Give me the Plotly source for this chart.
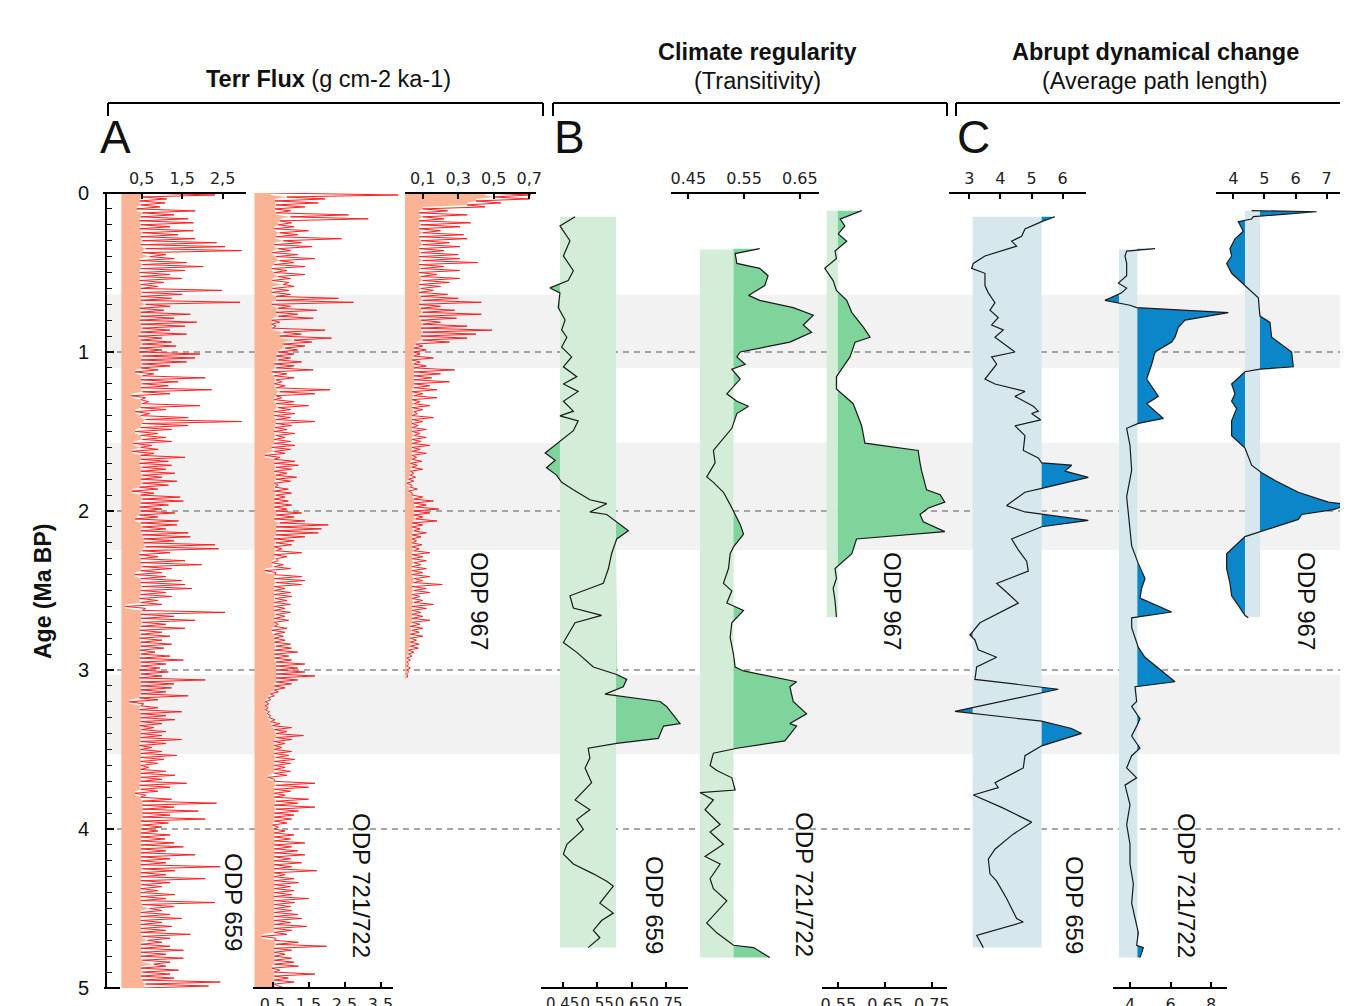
import plotly.graph_objects as go

W, H = 1348, 1006          # target page size (px)
OFF = 8                    # browser body margin: the figure div starts at (8, 8)
FW, FH = W - OFF, H - OFF  # figure size

# ------------------------------------------------------------------ data
AGE_TICKS = [0, 1, 2, 3, 4, 5]
GRAY_BANDS = [(0.64, 1.10), (1.57, 2.245), (3.03, 3.53)]
DASHED_AGES = [1, 2, 3, 4]

# sampling ages of the terrigenous-flux records (Ma)
FLUX_AGE = [
    0.0, 0.0125, 0.025, 0.0375, 0.05, 0.0625, 0.075, 0.0875, 0.1, 0.1125, 0.125, 0.1375, 0.15, 0.1625, 0.175, 0.1875,
    0.2, 0.2125, 0.225, 0.2375, 0.25, 0.2625, 0.275, 0.2875, 0.3, 0.3125, 0.325, 0.3375, 0.35, 0.3625, 0.375, 0.3875,
    0.4, 0.4125, 0.425, 0.4375, 0.45, 0.4625, 0.475, 0.4875, 0.5, 0.5125, 0.525, 0.5375, 0.55, 0.5625, 0.575, 0.5875,
    0.6, 0.6125, 0.625, 0.6375, 0.65, 0.6625, 0.675, 0.6875, 0.7, 0.7125, 0.725, 0.7375, 0.75, 0.7625, 0.775, 0.7875,
    0.8, 0.8125, 0.825, 0.8375, 0.85, 0.8625, 0.875, 0.8875, 0.9, 0.9125, 0.925, 0.9375, 0.95, 0.9625, 0.975, 0.9875,
    1.0, 1.0125, 1.025, 1.0375, 1.05, 1.0625, 1.075, 1.0875, 1.1, 1.1125, 1.125, 1.1375, 1.15, 1.1625, 1.175, 1.1875,
    1.2, 1.2125, 1.225, 1.2375, 1.25, 1.2625, 1.275, 1.2875, 1.3, 1.3125, 1.325, 1.3375, 1.35, 1.3625, 1.375, 1.3875,
    1.4, 1.4125, 1.425, 1.4375, 1.45, 1.4625, 1.475, 1.4875, 1.5, 1.5125, 1.525, 1.5375, 1.55, 1.5625, 1.575, 1.5875,
    1.6, 1.6125, 1.625, 1.6375, 1.65, 1.6625, 1.675, 1.6875, 1.7, 1.7125, 1.725, 1.7375, 1.75, 1.7625, 1.775, 1.7875,
    1.8, 1.8125, 1.825, 1.8375, 1.85, 1.8625, 1.875, 1.8875, 1.9, 1.9125, 1.925, 1.9375, 1.95, 1.9625, 1.975, 1.9875,
    2.0, 2.0125, 2.025, 2.0375, 2.05, 2.0625, 2.075, 2.0875, 2.1, 2.1125, 2.125, 2.1375, 2.15, 2.1625, 2.175, 2.1875,
    2.2, 2.2125, 2.225, 2.2375, 2.25, 2.2625, 2.275, 2.2875, 2.3, 2.3125, 2.325, 2.3375, 2.35, 2.3625, 2.375, 2.3875,
    2.4, 2.4125, 2.425, 2.4375, 2.45, 2.4625, 2.475, 2.4875, 2.5, 2.5125, 2.525, 2.5375, 2.55, 2.5625, 2.575, 2.5875,
    2.6, 2.6125, 2.625, 2.6375, 2.65, 2.6625, 2.675, 2.6875, 2.7, 2.7125, 2.725, 2.7375, 2.75, 2.7625, 2.775, 2.7875,
    2.8, 2.8125, 2.825, 2.8375, 2.85, 2.8625, 2.875, 2.8875, 2.9, 2.9125, 2.925, 2.9375, 2.95, 2.9625, 2.975, 2.9875,
    3.0, 3.0125, 3.025, 3.0375, 3.05, 3.0625, 3.075, 3.0875, 3.1, 3.1125, 3.125, 3.1375, 3.15, 3.1625, 3.175, 3.1875,
    3.2, 3.2125, 3.225, 3.2375, 3.25, 3.2625, 3.275, 3.2875, 3.3, 3.3125, 3.325, 3.3375, 3.35, 3.3625, 3.375, 3.3875,
    3.4, 3.4125, 3.425, 3.4375, 3.45, 3.4625, 3.475, 3.4875, 3.5, 3.5125, 3.525, 3.5375, 3.55, 3.5625, 3.575, 3.5875,
    3.6, 3.6125, 3.625, 3.6375, 3.65, 3.6625, 3.675, 3.6875, 3.7, 3.7125, 3.725, 3.7375, 3.75, 3.7625, 3.775, 3.7875,
    3.8, 3.8125, 3.825, 3.8375, 3.85, 3.8625, 3.875, 3.8875, 3.9, 3.9125, 3.925, 3.9375, 3.95, 3.9625, 3.975, 3.9875,
    4.0, 4.0125, 4.025, 4.0375, 4.05, 4.0625, 4.075, 4.0875, 4.1, 4.1125, 4.125, 4.1375, 4.15, 4.1625, 4.175, 4.1875,
    4.2, 4.2125, 4.225, 4.2375, 4.25, 4.2625, 4.275, 4.2875, 4.3, 4.3125, 4.325, 4.3375, 4.35, 4.3625, 4.375, 4.3875,
    4.4, 4.4125, 4.425, 4.4375, 4.45, 4.4625, 4.475, 4.4875, 4.5, 4.5125, 4.525, 4.5375, 4.55, 4.5625, 4.575, 4.5875,
    4.6, 4.6125, 4.625, 4.6375, 4.65, 4.6625, 4.675, 4.6875, 4.7, 4.7125, 4.725, 4.7375, 4.75, 4.7625, 4.775, 4.7875,
    4.8, 4.8125, 4.825, 4.8375, 4.85, 4.8625, 4.875, 4.8875, 4.9, 4.9125, 4.925, 4.9375, 4.95, 4.9625, 4.975, 4.9875,
    5.0]

# A: Terr flux (g cm-2 ka-1)
A1_val = [
    0.48, 2.31, 0.52, 1.12, 0.45, 1.08, 0.48, 0.95, 0.38, 1.82, 0.52, 1.30, 0.48, 1.65, 0.45, 1.78,
    0.48, 1.20, 0.45, 1.78, 0.52, 1.40, 0.48, 1.82, 0.52, 2.35, 0.48, 2.56, 0.60, 2.97, 0.52, 1.10,
    0.70, 1.30, 0.45, 1.61, 0.52, 2.02, 0.48, 1.57, 0.45, 1.20, 0.48, 1.49, 0.45, 1.05, 0.48, 0.90,
    0.48, 2.48, 0.52, 1.50, 0.48, 1.24, 0.48, 2.93, 0.60, 1.20, 0.45, 1.05, 0.48, 1.70, 0.48, 1.30,
    0.45, 1.86, 0.48, 1.57, 0.52, 1.20, 0.48, 1.61, 0.42, 1.00, 0.48, 1.24, 0.52, 1.35, 0.45, 1.00,
    0.45, 1.94, 0.52, 1.82, 0.48, 1.61, 0.52, 1.20, 0.48, 0.91, 0.34, 0.80, 0.52, 2.07, 0.48, 1.40,
    0.52, 1.16, 0.48, 2.23, 0.52, 1.20, 0.25, 0.60, 0.48, 0.67, 0.52, 1.94, 0.48, 1.10, 0.34, 0.70,
    0.48, 1.65, 0.60, 2.97, 0.52, 1.65, 0.48, 1.24, 0.34, 0.90, 0.48, 1.10, 0.52, 1.24, 0.30, 0.75,
    0.48, 0.91, 0.26, 0.80, 0.48, 1.57, 0.48, 1.16, 0.45, 1.24, 0.52, 1.10, 0.48, 1.32, 0.52, 1.00,
    0.48, 1.37, 0.52, 1.16, 0.45, 0.90, 0.26, 0.80, 0.48, 1.45, 0.52, 1.53, 0.48, 1.16, 0.45, 1.00,
    0.48, 1.32, 0.45, 0.90, 0.34, 1.41, 0.48, 1.37, 0.52, 1.10, 0.48, 1.65, 0.52, 1.70, 0.55, 1.30,
    0.55, 2.31, 0.60, 2.40, 0.52, 1.20, 0.45, 0.90, 0.48, 1.57, 0.48, 1.98, 0.52, 1.24, 0.48, 1.00,
    0.34, 1.10, 0.48, 1.49, 0.48, 1.57, 0.52, 1.74, 0.48, 1.10, 0.48, 1.24, 0.45, 0.90, 0.48, 1.00,
    0.10, 0.60, 0.52, 2.56, 0.48, 1.30, 0.48, 1.82, 0.52, 1.10, 0.48, 1.57, 0.45, 1.00, 0.48, 1.20,
    0.45, 1.00, 0.48, 1.24, 0.48, 1.05, 0.45, 0.83, 0.48, 1.20, 0.45, 1.53, 0.48, 1.10, 0.48, 0.95,
    0.45, 1.16, 0.48, 1.00, 0.45, 2.07, 0.48, 1.30, 0.48, 1.24, 0.48, 1.10, 0.48, 1.65, 0.45, 0.90,
    0.20, 0.55, 0.48, 0.90, 0.45, 1.49, 0.48, 1.10, 0.48, 1.32, 0.48, 1.00, 0.45, 0.80, 0.50, 1.10,
    0.48, 1.00, 0.48, 1.49, 0.48, 1.10, 0.45, 0.75, 0.48, 1.00, 0.48, 1.37, 0.48, 1.05, 0.48, 0.90,
    0.48, 0.67, 0.48, 1.10, 0.48, 1.32, 0.48, 1.00, 0.48, 1.61, 0.45, 1.20, 0.48, 0.90, 0.34, 0.60,
    0.48, 1.24, 0.52, 2.35, 0.52, 1.30, 0.52, 1.90, 0.52, 1.20, 0.52, 2.07, 0.48, 1.16, 0.52, 1.00,
    0.50, 0.90, 0.48, 1.20, 0.48, 1.08, 0.48, 1.30, 0.48, 1.53, 0.48, 1.10, 0.48, 1.82, 0.48, 1.20,
    0.48, 1.10, 0.48, 2.44, 0.52, 1.32, 0.48, 1.10, 0.48, 2.07, 0.48, 1.20, 0.50, 1.00, 0.48, 0.90,
    0.48, 1.32, 0.48, 1.10, 0.48, 2.31, 0.52, 1.30, 0.70, 1.00, 0.48, 1.20, 0.48, 1.49, 0.48, 1.00,
    0.48, 1.24, 0.48, 1.10, 0.48, 1.70, 0.52, 1.20, 0.65, 1.00, 0.48, 1.20, 0.48, 1.53, 0.48, 1.10,
    0.48, 1.53, 0.52, 1.20, 0.80, 1.10, 0.48, 1.41, 0.52, 1.20, 0.48, 1.30, 0.52, 2.44, 0.60, 2.15,
    0.55]

A2_val = [
    0.45, 3.99, 0.90, 1.96, 0.57, 1.77, 0.60, 1.40, 0.57, 1.00, 0.60, 2.61, 1.00, 3.16, 0.70, 1.03,
    0.66, 1.10, 0.55, 1.50, 0.70, 1.20, 0.60, 2.42, 0.80, 1.30, 0.55, 1.59, 0.66, 1.00, 0.50, 1.20,
    0.60, 1.68, 0.70, 1.10, 0.55, 1.40, 0.48, 0.90, 0.55, 1.40, 0.66, 1.00, 0.50, 0.95, 0.80, 1.10,
    0.50, 0.95, 0.48, 1.00, 0.60, 2.33, 0.60, 2.75, 0.48, 1.00, 0.66, 1.73, 0.60, 1.20, 0.66, 1.63,
    0.48, 0.70, 0.48, 0.60, 0.50, 1.96, 0.80, 1.30, 0.70, 2.14, 1.10, 1.59, 0.80, 1.40, 0.85, 1.20,
    0.66, 1.10, 0.60, 1.00, 0.66, 1.31, 0.55, 1.10, 0.60, 1.63, 0.48, 0.90, 0.55, 1.10, 0.60, 0.76,
    0.55, 0.85, 0.60, 2.10, 0.70, 1.68, 0.60, 0.76, 0.55, 1.10, 0.60, 1.50, 0.66, 1.00, 0.55, 1.12,
    0.55, 1.00, 0.60, 1.68, 0.60, 1.03, 0.57, 0.90, 0.55, 1.12, 0.60, 0.85, 0.55, 1.00, 0.55, 1.12,
    0.48, 1.00, 0.55, 0.85, 0.29, 0.70, 0.55, 1.12, 0.55, 1.22, 0.60, 1.03, 0.55, 0.90, 0.60, 1.17,
    0.60, 1.00, 0.55, 0.66, 0.57, 0.94, 0.55, 1.03, 0.60, 0.85, 0.55, 0.94, 0.55, 1.03, 0.55, 0.90,
    0.60, 1.31, 0.60, 1.10, 0.55, 1.40, 0.70, 2.05, 0.60, 1.86, 0.60, 1.77, 0.60, 1.40, 0.55, 1.10,
    0.60, 1.03, 0.55, 0.76, 0.60, 1.31, 0.55, 0.90, 0.60, 0.66, 0.48, 0.80, 0.55, 1.00, 0.29, 0.60,
    0.55, 1.31, 0.55, 1.40, 0.60, 1.31, 0.55, 0.85, 0.55, 1.00, 0.55, 1.03, 0.57, 0.90, 0.55, 1.00,
    0.55, 0.85, 0.55, 1.00, 0.60, 0.85, 0.55, 0.95, 0.55, 0.66, 0.55, 0.90, 0.48, 0.85, 0.55, 0.80,
    0.55, 0.85, 0.55, 1.00, 0.60, 1.03, 0.55, 1.20, 0.55, 0.95, 0.55, 1.03, 0.60, 1.40, 0.60, 1.20,
    0.60, 1.40, 0.60, 1.68, 0.60, 1.20, 0.60, 1.03, 0.55, 0.85, 0.55, 0.66, 0.45, 0.55, 0.38, 0.45,
    0.30, 0.40, 0.29, 0.38, 0.30, 0.42, 0.35, 0.45, 0.40, 0.57, 0.45, 0.70, 0.50, 1.03, 0.55, 0.90,
    0.60, 1.36, 0.60, 1.03, 0.55, 0.85, 0.55, 0.76, 0.55, 1.03, 0.55, 0.95, 0.60, 1.12, 0.55, 1.00,
    0.55, 0.85, 0.55, 1.00, 0.55, 0.90, 0.38, 0.55, 0.55, 1.68, 0.60, 1.50, 0.55, 1.00, 0.55, 0.85,
    0.55, 1.50, 0.60, 1.20, 0.55, 1.68, 0.60, 1.22, 0.55, 1.10, 0.55, 1.03, 0.55, 0.90, 0.50, 0.66,
    0.55, 0.85, 0.55, 1.10, 0.55, 1.00, 0.55, 1.40, 0.55, 1.03, 0.55, 1.20, 0.55, 1.40, 0.55, 1.00,
    0.55, 1.31, 0.55, 1.03, 0.55, 1.73, 0.55, 0.85, 0.55, 1.10, 0.55, 1.22, 0.55, 1.00, 0.55, 1.10,
    0.55, 1.03, 0.55, 1.50, 0.55, 1.12, 0.55, 1.00, 0.55, 1.03, 0.55, 1.20, 0.55, 1.31, 0.55, 1.00,
    0.55, 1.45, 0.55, 1.03, 0.55, 0.90, 0.20, 0.60, 0.55, 1.22, 0.60, 2.00, 0.55, 1.03, 0.55, 0.85,
    0.55, 1.03, 0.55, 1.10, 0.55, 1.22, 0.48, 0.70, 0.55, 1.68, 0.55, 0.94, 0.55, 1.10, 0.55, 0.66,
    0.85]

A3_val = [
    0.45, 0.71, 0.50, 0.70, 0.40, 0.54, 0.35, 0.45, 0.10, 0.24, 0.08, 0.35, 0.10, 0.22, 0.08, 0.37,
    0.09, 0.31, 0.08, 0.20, 0.10, 0.33, 0.08, 0.35, 0.09, 0.25, 0.10, 0.31, 0.08, 0.22, 0.09, 0.30,
    0.08, 0.31, 0.10, 0.41, 0.08, 0.22, 0.09, 0.31, 0.08, 0.18, 0.09, 0.31, 0.10, 0.25, 0.08, 0.20,
    0.09, 0.16, 0.08, 0.24, 0.09, 0.30, 0.10, 0.43, 0.08, 0.20, 0.09, 0.28, 0.10, 0.43, 0.08, 0.29,
    0.09, 0.20, 0.10, 0.35, 0.09, 0.49, 0.10, 0.40, 0.09, 0.35, 0.10, 0.25, 0.06, 0.10, 0.05, 0.12,
    0.05, 0.085, 0.05, 0.16, 0.04, 0.085, 0.05, 0.12, 0.05, 0.28, 0.05, 0.20, 0.05, 0.15, 0.05, 0.25,
    0.05, 0.14, 0.05, 0.18, 0.04, 0.10, 0.05, 0.18, 0.04, 0.085, 0.05, 0.14, 0.04, 0.10, 0.05, 0.07,
    0.04, 0.16, 0.04, 0.10, 0.04, 0.075, 0.04, 0.12, 0.04, 0.085, 0.05, 0.12, 0.04, 0.09, 0.04, 0.14,
    0.04, 0.085, 0.04, 0.12, 0.04, 0.065, 0.04, 0.095, 0.03, 0.07, 0.04, 0.10, 0.03, 0.05, 0.03, 0.06,
    0.02, 0.05, 0.01, 0.04, 0.03, 0.07, 0.02, 0.04, 0.04, 0.10, 0.05, 0.16, 0.05, 0.12, 0.06, 0.19,
    0.05, 0.14, 0.05, 0.10, 0.06, 0.18, 0.04, 0.10, 0.04, 0.085, 0.05, 0.12, 0.04, 0.09, 0.04, 0.065,
    0.04, 0.095, 0.04, 0.08, 0.05, 0.14, 0.04, 0.10, 0.04, 0.12, 0.05, 0.09, 0.04, 0.12, 0.04, 0.10,
    0.04, 0.14, 0.05, 0.10, 0.05, 0.21, 0.04, 0.12, 0.05, 0.14, 0.04, 0.085, 0.04, 0.10, 0.05, 0.16,
    0.04, 0.12, 0.04, 0.09, 0.04, 0.10, 0.04, 0.14, 0.04, 0.085, 0.03, 0.10, 0.04, 0.08, 0.03, 0.10,
    0.03, 0.065, 0.03, 0.08, 0.03, 0.075, 0.02, 0.05, 0.02, 0.04, 0.01, 0.03, 0.01, 0.02, 0.01, 0.03,
    0.01, 0.02, 0.01, 0.015, 0.01]

# B: Transitivity
B1_age = [0.149,0.207,0.300,0.396,0.489,0.551,0.597,0.628,0.721,0.799,
          0.861,0.907,0.969,1.031,1.093,1.155,1.201,1.248,1.310,1.372,
          1.402,1.433,1.495,1.635,1.681,1.728,1.774,1.820,1.867,1.929,
          1.954,2.006,2.022,2.124,2.176,2.269,2.362,2.455,2.533,2.610,
          2.656,2.703,2.827,2.889,2.981,3.028,3.059,3.105,3.152,3.198,
          3.229,3.337,3.353,3.430,3.461,3.492,3.554,3.616,3.709,3.817,
          3.879,3.941,4.003,4.096,4.158,4.220,4.282,4.328,4.359,4.467,
          4.529,4.576,4.638,4.684,4.746]
B1_val = [0.486,0.442,0.471,0.452,0.481,0.466,0.413,0.442,0.437,0.457,
          0.447,0.462,0.447,0.476,0.452,0.491,0.452,0.495,0.452,0.481,
          0.442,0.495,0.481,0.399,0.428,0.403,0.432,0.447,0.481,0.529,
          0.578,0.529,0.578,0.641,0.607,0.592,0.583,0.568,0.471,0.481,
          0.563,0.486,0.452,0.491,0.539,0.607,0.636,0.626,0.573,0.733,
          0.752,0.791,0.743,0.728,0.607,0.524,0.529,0.515,0.534,0.486,
          0.529,0.491,0.510,0.462,0.452,0.481,0.539,0.578,0.597,0.558,
          0.597,0.563,0.539,0.558,0.524]

B2_age = [0.350,0.381,0.443,0.474,0.520,0.582,0.644,0.675,0.721,0.752,
          0.768,0.830,0.876,0.938,0.985,1.000,1.031,1.077,1.108,1.170,
          1.263,1.310,1.341,1.387,1.480,1.557,1.619,1.697,1.786,1.820,
          1.882,1.960,2.022,2.084,2.146,2.226,2.269,2.362,2.455,2.502,
          2.579,2.625,2.703,2.796,2.901,2.981,3.006,3.074,3.105,3.198,
          3.276,3.337,3.353,3.446,3.492,3.523,3.601,3.632,3.678,3.755,
          3.771,3.817,3.879,3.972,4.019,4.096,4.173,4.220,4.313,4.375,
          4.452,4.498,4.591,4.653,4.731,4.746,4.808]
B2_val = [0.578,0.534,0.537,0.578,0.593,0.587,0.558,0.578,0.638,0.662,
          0.674,0.656,0.671,0.632,0.566,0.543,0.537,0.552,0.528,0.543,
          0.519,0.537,0.558,0.537,0.528,0.510,0.495,0.498,0.483,0.495,
          0.513,0.525,0.534,0.543,0.549,0.531,0.525,0.522,0.513,0.528,
          0.519,0.549,0.528,0.525,0.531,0.534,0.549,0.644,0.632,0.638,
          0.662,0.632,0.644,0.623,0.537,0.495,0.489,0.501,0.528,0.534,
          0.471,0.495,0.480,0.507,0.489,0.513,0.480,0.507,0.489,0.495,
          0.519,0.507,0.483,0.501,0.531,0.567,0.596]

B3_age = [0.111,0.164,0.207,0.257,0.303,0.365,0.412,0.474,0.551,0.613,
          0.675,0.752,0.845,0.907,0.938,1.031,1.155,1.232,1.325,1.464,
          1.573,1.619,1.697,1.743,1.867,1.898,1.944,1.981,2.022,2.068,
          2.130,2.176,2.269,2.316,2.362,2.424,2.486,2.564,2.632,2.667]
B3_val = [0.600,0.554,0.564,0.550,0.568,0.543,0.546,0.521,0.539,0.546,
          0.568,0.579,0.604,0.618,0.586,0.575,0.546,0.546,0.582,0.600,
          0.607,0.721,0.725,0.728,0.739,0.768,0.778,0.743,0.725,0.732,
          0.778,0.589,0.579,0.561,0.543,0.546,0.539,0.543,0.546,0.546]

# C: Average path length
C1_age = [0.149,0.180,0.226,0.272,0.303,0.334,0.396,0.443,0.474,0.505,
          0.582,0.628,0.690,0.737,0.783,0.830,0.861,0.907,1.000,1.031,
          1.077,1.170,1.201,1.248,1.279,1.341,1.372,1.387,1.427,1.464,
          1.526,1.619,1.666,1.697,1.712,1.749,1.789,1.820,1.858,1.882,
          1.944,1.966,2.006,2.059,2.099,2.139,2.176,2.245,2.316,2.378,
          2.455,2.502,2.579,2.703,2.780,2.811,2.873,2.920,2.981,3.059,
          3.121,3.260,3.322,3.368,3.399,3.477,3.539,3.616,3.678,3.709,
          3.740,3.786,3.864,3.957,4.034,4.127,4.189,4.282,4.328,4.437,
          4.563,4.585,4.669,4.746]
C1_val = [5.755,5.326,4.790,4.683,4.361,4.522,3.504,3.129,3.075,3.504,
          3.504,3.611,3.825,3.665,3.932,3.718,4.093,3.825,4.468,3.718,
          3.879,3.504,3.825,4.790,4.468,5.058,5.219,5.004,5.300,4.468,
          4.790,4.736,5.219,5.326,6.290,6.076,6.826,6.183,5.326,4.790,
          4.361,4.200,4.790,6.826,5.326,4.843,4.361,4.576,4.843,4.897,
          3.879,4.147,4.576,3.343,3.020,3.182,3.289,3.879,3.236,3.182,
          5.862,2.539,5.326,6.290,6.612,5.326,4.790,4.736,4.147,3.825,
          3.932,3.129,4.040,5.004,4.400,3.825,3.611,3.665,3.879,4.200,
          4.522,4.736,3.236,3.450]

C2_age = [0.350,0.365,0.396,0.443,0.520,0.567,0.598,0.628,0.675,0.706,
          0.721,0.752,0.799,0.845,0.907,0.938,1.000,1.077,1.170,1.279,
          1.325,1.418,1.449,1.480,1.588,1.743,1.910,2.096,2.220,2.331,
          2.424,2.486,2.548,2.635,2.672,2.734,2.858,2.920,3.074,3.105,
          3.198,3.229,3.307,3.353,3.415,3.492,3.539,3.616,3.678,3.724,
          3.848,3.972,4.096,4.220,4.344,4.467,4.557,4.653,4.731,4.746,
          4.808]
C2_val = [5.235,3.835,3.753,3.835,3.835,3.424,3.835,3.588,2.765,4.000,
          4.329,8.856,6.716,6.387,6.222,6.058,5.235,5.070,4.823,5.399,
          4.823,5.646,4.412,3.835,4.000,4.082,3.835,4.000,4.082,4.412,
          4.741,4.576,4.494,6.058,4.082,4.082,4.412,4.741,6.222,4.247,
          4.329,4.082,4.494,4.329,4.082,4.494,4.082,3.835,4.329,3.753,
          4.000,3.835,4.000,4.000,4.165,4.082,4.247,4.412,4.329,4.659,
          4.494]

C3_age = [0.111,0.118,0.149,0.164,0.180,0.241,0.288,0.350,0.396,0.443,
          0.505,0.582,0.659,0.774,0.814,0.907,1.000,1.093,1.108,1.124,
          1.201,1.263,1.310,1.356,1.433,1.526,1.604,1.712,1.759,1.808,
          1.882,1.944,1.960,1.991,2.022,2.053,2.130,2.161,2.269,2.362,
          2.455,2.533,2.656,2.672]
C3_val = [4.590,6.680,4.643,4.590,4.161,4.322,4.054,3.893,3.946,3.786,
          3.946,4.375,4.804,4.857,5.179,5.233,5.876,5.929,4.857,4.375,
          3.946,4.054,3.946,4.107,3.946,3.946,4.375,4.590,4.911,5.340,
          6.090,7.055,7.698,7.215,6.197,6.090,4.857,4.375,3.786,3.786,
          3.893,3.946,4.375,4.482]

# reference bands (value low, value high, age top, age bottom)
B1_band = [0.442, 0.605, 0.149, 4.746]
B2_band = [0.471, 0.531, 0.355, 4.808]
B3_band = [0.525, 0.549, 0.111, 2.667]
C1_band = [3.107, 5.326, 0.149, 4.746]
C2_band = [3.457, 4.362, 0.355, 4.808]
C3_band = [4.375, 4.857, 0.111, 2.667]

# tick values / labels
A1_ticks, A1_lbl = [0.5, 1.5, 2.5], ["0,5", "1,5", "2,5"]
A2_ticks, A2_lbl = [0.5, 1.5, 2.5, 3.5], ["0.5", "1.5", "2.5", "3.5"]
A3_ticks, A3_lbl = [0.1, 0.3, 0.5, 0.7], ["0,1", "0,3", "0,5", "0,7"]
B1_ticks, B1_lbl = [0.45, 0.55, 0.65, 0.75], ["0.45", "0.55", "0.65", "0.75"]
B2_ticks, B2_lbl = [0.45, 0.55, 0.65], ["0.45", "0.55", "0.65"]
B3_ticks, B3_lbl = [0.55, 0.65, 0.75], ["0.55", "0.65", "0.75"]
C1_ticks, C1_lbl = [3, 4, 5, 6], ["3", "4", "5", "6"]
C2_ticks, C2_lbl = [4, 6, 8], ["4", "6", "8"]
C3_ticks, C3_lbl = [4, 5, 6, 7], ["4", "5", "6", "7"]

# ------------------------------------------------------------------ style / layout
ORANGE = "#fab394"
RED = "#ff1f1f"
LGREEN, DGREEN = "#d4edd9", "#7ed49a"
LBLUE, DBLUE = "#d6e8ee", "#0a86c9"
GRAY_BAND = "#f2f2f2"
FONT = "Liberation Sans"

Y_TOP, Y_BOT = 193, 988     # page rows of age 0 and age 5
Y_AXIS_X = 106
PAD = 22


def px(x):
    return (x - OFF) / FW


def py(y):
    return 1 - (y - OFF) / FH


PANELS = [
    dict(line=(103, 246), vref=0.0, pref=121.4, scale=40.5, side="top", tv=A1_ticks, tt=A1_lbl, fs=16),
    dict(line=(253, 393), vref=0.0, pref=254.5, scale=36.0, side="bottom", tv=A2_ticks, tt=A2_lbl, fs=16),
    dict(line=(405, 536), vref=0.0, pref=405.0, scale=177.5, side="top", tv=A3_ticks, tt=A3_lbl, fs=16),
    dict(line=(541, 688), vref=0.45, pref=562.7, scale=344.0, side="bottom", tv=B1_ticks, tt=B1_lbl, fs=15),
    dict(line=(671, 819), vref=0.45, pref=688.3, scale=558.0, side="top", tv=B2_ticks, tt=B2_lbl, fs=16),
    dict(line=(822, 947), vref=0.55, pref=838.3, scale=467.0, side="bottom", tv=B3_ticks, tt=B3_lbl, fs=16),
    dict(line=(949, 1086), vref=3.0, pref=969.3, scale=31.1, side="top", tv=C1_ticks, tt=C1_lbl, fs=16),
    dict(line=(1113, 1227), vref=4.0, pref=1130.0, scale=20.25, side="bottom", tv=C2_ticks, tt=C2_lbl, fs=16),
    dict(line=(1216, 1348), vref=4.0, pref=1233.3, scale=31.1, side="top", tv=C3_ticks, tt=C3_lbl, fs=16),
]

layout = dict(
    template="none",
    width=FW, height=FH, autosize=False,
    margin=dict(l=0, r=0, t=0, b=0, pad=0),
    paper_bgcolor="white", plot_bgcolor="rgba(0,0,0,0)",
    showlegend=False,
    yaxis=dict(
        domain=[py(Y_BOT), py(Y_TOP)], range=[5, 0], autorange=False, automargin=False,
        anchor="free", position=px(Y_AXIS_X),
        showline=True, linecolor="black", linewidth=2,
        ticks="inside", ticklen=7, tickwidth=1.5, tickcolor="black",
        tickmode="array", tickvals=AGE_TICKS, ticktext=[str(t) for t in AGE_TICKS],
        tickfont=dict(family=FONT, size=20, color="#111"),
        ticklabelstandoff=12,
        minor=dict(dtick=0.1, tick0=0, ticks="inside", ticklen=5, tickwidth=1.2, tickcolor="black"),
        showgrid=False, zeroline=False, fixedrange=True,
    ),
)

axis_ids = []
for i, p in enumerate(PANELS):
    aid = "x" if i == 0 else f"x{i+1}"
    key = "xaxis" if i == 0 else f"xaxis{i+1}"
    axis_ids.append(aid)
    L = max(OFF, p["line"][0] - PAD)
    R = min(W, p["line"][1] + PAD)
    rng = [p["vref"] + (L - p["pref"]) / p["scale"], p["vref"] + (R - p["pref"]) / p["scale"]]
    layout[key] = dict(
        domain=[px(L), px(R)], range=rng, autorange=False, automargin=False,
        anchor="y", side=p["side"],
        showline=False, showgrid=False, zeroline=False,
        ticks="inside", ticklen=6, tickwidth=2, tickcolor="black",
        tickmode="array", tickvals=p["tv"], ticktext=p["tt"], tickangle=0,
        tickfont=dict(family="DejaVu Sans", size=p["fs"], color="#222"),
        ticklabelstandoff=5, fixedrange=True,
    )

fig = go.Figure()
shapes = []
annotations = []

# gray bands + dashed reference lines (under everything)
for a0, a1 in GRAY_BANDS:
    shapes.append(dict(type="rect", xref="paper", yref="y", x0=px(Y_AXIS_X), x1=1, y0=a0, y1=a1,
                       fillcolor=GRAY_BAND, line=dict(width=0), layer="below"))
for a in DASHED_AGES:
    shapes.append(dict(type="line", xref="paper", yref="y", x0=px(Y_AXIS_X), x1=1, y0=a, y1=a,
                       line=dict(color="#8a8a8a", width=1.6, dash="6px,5px"), layer="below"))

# A panels: orange base (running local minimum of each record) + red record
for vals, aid in zip([A1_val, A2_val, A3_val], axis_ids[:3]):
    ages = FLUX_AGE[:len(vals)]
    assert len(ages) == len(vals)
    base = [min(vals[max(0, i - 1):i + 2]) for i in range(len(vals))]
    fig.add_trace(go.Scatter(x=base, y=ages, xaxis=aid, yaxis="y", mode="lines",
                             line=dict(width=0, color=ORANGE), fill="tozerox", fillcolor=ORANGE,
                             hoverinfo="skip", showlegend=False))
    fig.add_trace(go.Scatter(x=vals, y=ages, xaxis=aid, yaxis="y", mode="lines",
                             line=dict(color=RED, width=1),
                             hoverinfo="skip", showlegend=False))


def excess_polygon(ages, vals, thr, side):
    xs, ys = [], []
    sgn = 1 if side == "hi" else -1
    for i in range(len(vals)):
        if i > 0:
            d0 = (vals[i - 1] - thr) * sgn
            d1 = (vals[i] - thr) * sgn
            if (d0 > 0) != (d1 > 0) and d0 != d1:
                t = d0 / (d0 - d1)
                xs.append(thr)
                ys.append(ages[i - 1] + t * (ages[i] - ages[i - 1]))
        xs.append(max(vals[i], thr) if side == "hi" else min(vals[i], thr))
        ys.append(ages[i])
    xs += [thr, thr]
    ys += [ys[-1], ys[0]]
    return xs, ys


BC = [
    (B1_age, B1_val, B1_band, LGREEN, DGREEN),
    (B2_age, B2_val, B2_band, LGREEN, DGREEN),
    (B3_age, B3_val, B3_band, LGREEN, DGREEN),
    (C1_age, C1_val, C1_band, LBLUE, DBLUE),
    (C2_age, C2_val, C2_band, LBLUE, DBLUE),
    (C3_age, C3_val, C3_band, LBLUE, DBLUE),
]
for (ages, vals, band, lc, dc), aid in zip(BC, axis_ids[3:]):
    assert len(ages) == len(vals)
    lo, hi, a0, a1 = band
    shapes.append(dict(type="rect", xref=aid, yref="y", x0=lo, x1=hi, y0=a0, y1=a1,
                       fillcolor=lc, line=dict(width=0), layer="below"))
    for thr, side in [(hi, "hi"), (lo, "lo")]:
        xs, ys = excess_polygon(ages, vals, thr, side)
        fig.add_trace(go.Scatter(x=xs, y=ys, xaxis=aid, yaxis="y", mode="lines",
                                 line=dict(width=0, color=dc), fill="toself", fillcolor=dc,
                                 hoverinfo="skip", showlegend=False))
    fig.add_trace(go.Scatter(x=vals, y=ages, xaxis=aid, yaxis="y", mode="lines",
                             line=dict(color="#1a1a1a", width=1.2),
                             hoverinfo="skip", showlegend=False))

# axis lines of each panel
for p in PANELS:
    yy = py(Y_TOP) if p["side"] == "top" else py(Y_BOT)
    shapes.append(dict(type="line", xref="paper", yref="paper", x0=px(p["line"][0]), x1=px(p["line"][1]),
                       y0=yy, y1=yy, line=dict(color="black", width=2.2)))
shapes.append(dict(type="line", xref="paper", yref="paper", x0=px(Y_AXIS_X - 2), x1=px(120),
                   y0=py(Y_BOT), y1=py(Y_BOT), line=dict(color="black", width=2)))

# group brackets
BRACKETS = [(108, 543, True, True), (553, 947, True, True), (956, 1348, True, False)]
for x0, x1, lt, rt in BRACKETS:
    shapes.append(dict(type="line", xref="paper", yref="paper", x0=px(x0), x1=px(x1),
                       y0=py(103), y1=py(103), line=dict(color="black", width=2)))
    if lt:
        shapes.append(dict(type="line", xref="paper", yref="paper", x0=px(x0), x1=px(x0),
                           y0=py(103), y1=py(116), line=dict(color="black", width=2)))
    if rt:
        shapes.append(dict(type="line", xref="paper", yref="paper", x0=px(x1), x1=px(x1),
                           y0=py(103), y1=py(116), line=dict(color="black", width=2)))


def ann(text, x, y, size, angle=0, color="#111"):
    annotations.append(dict(text=text, x=px(x), y=py(y), xref="paper", yref="paper",
                            showarrow=False, xanchor="center", yanchor="middle",
                            textangle=angle, font=dict(family=FONT, size=size, color=color)))


TITLE_FS = 23.5
ann("<b>Terr Flux</b> (g cm-2 ka-1)", 328, 79, TITLE_FS)
ann("<b>Climate regularity</b>", 758, 52, TITLE_FS)
ann("(Transitivity)", 758, 81, TITLE_FS)
ann("<b>Abrupt dynamical change</b>", 1155, 52, TITLE_FS)
ann("(Average path length)", 1155, 81, TITLE_FS)
ann("A", 115, 137, 46)
ann("B", 569, 137, 46)
ann("C", 974, 137, 46)
ann("<b>Age (Ma BP)</b>", 43, 592, 23, angle=-90)

SITE_LABELS = [
    ("ODP 659", 234, 902), ("ODP 721/722", 362, 885), ("ODP 967", 480, 601),
    ("ODP 659", 655, 905), ("ODP 721/722", 805, 885), ("ODP 967", 893, 601),
    ("ODP 659", 1075, 905), ("ODP 721/722", 1187, 885), ("ODP 967", 1307, 601),
]
for t, x, y in SITE_LABELS:
    ann(t, x, y, 24, angle=90)

layout["shapes"] = shapes
layout["annotations"] = annotations
fig.update_layout(**layout)
fig.write_html("out.html")
